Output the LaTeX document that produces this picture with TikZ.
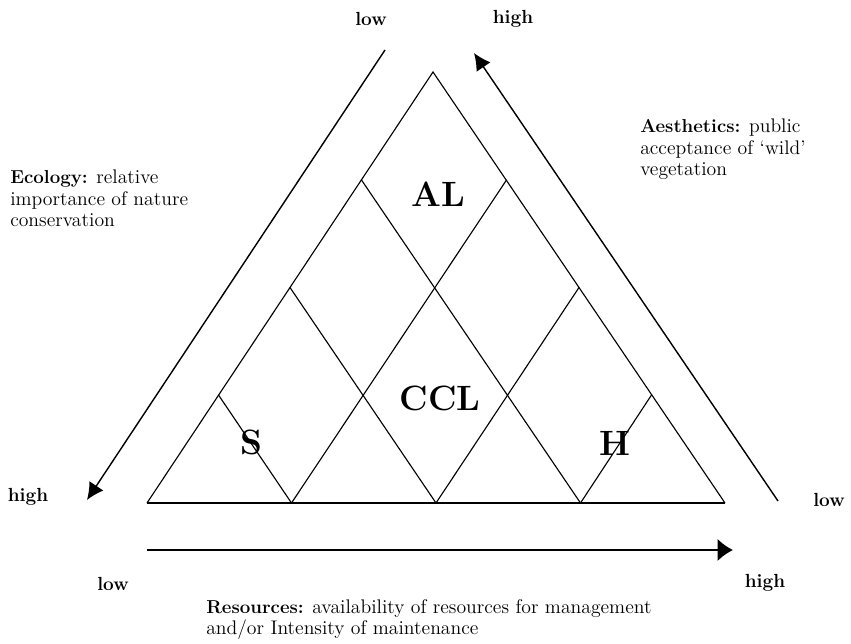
\documentclass[tikz,border=0pt]{standalone}
\usepackage{tikz}
\tikzset{x=0.025cm, y=-0.025cm}
\usetikzlibrary{arrows.meta}
\tikzset{grid/.style={line width=0.8pt}, axisline/.style={line width=1pt}}
\tikzset{caption/.style={font=\fontsize{14}{15}\selectfont, align=left, inner sep=0pt, anchor=north west}}
\newcommand{\zonelabel}[2]{node[font=\fontsize{25}{25}\selectfont\bfseries](#1) {#2}}
\newcommand{\axisend}[2]{node[font=\fontsize{13.5}{15}\selectfont\bfseries](#1) {#2}}
\newcommand{\headword}[1]{{\fontsize{13.3}{15}\selectfont\bfseries #1}}

\begin{document}
\begin{tikzpicture}
\useasboundingbox (0,0) rectangle (851,644);
% corners of the triangle
\draw (147,503) coordinate(sw) ;
\draw (725,503) coordinate(se) ;
\draw (433,72) coordinate(apex) ;
% grid points on the sides
\draw (218.5,395) coordinate(l1) ;
\draw (290,287.5) coordinate(l2) ;
\draw (361.5,180) coordinate(l3) ;
\draw (651.5,395) coordinate(r1) ;
\draw (579,287.5) coordinate(r2) ;
\draw (506.5,180) coordinate(r3) ;
\draw (291.5,503) coordinate(b1) ;
\draw (436,503) coordinate(b2) ;
\draw (580.5,503) coordinate(b3) ;
\draw[grid] (sw) -- (apex) -- (se) ;
\draw[grid, line width=1.2pt] (sw) -- (se) ;
\draw[grid] (b1) -- (r3) ;
\draw[grid] (b2) -- (r2) ;
\draw[grid] (b3) -- (r1) ;
\draw[grid] (b3) -- (l3) ;
\draw[grid] (b2) -- (l2) ;
\draw[grid] (b1) -- (l1) ;
  \draw (438,194) \zonelabel{al}{AL} ;
  \draw (440,398) \zonelabel{ccl}{CCL} ;
  \draw (251,442) \zonelabel{s}{S} ;
  \draw (615,443) \zonelabel{h}{H} ;
% the three axes
\draw (385,50) coordinate(ecotop) ;
\draw (87,500) coordinate(ecoend) ;
\draw (778,501) coordinate(aesbot) ;
\draw (474,53) coordinate(aesend) ;
\draw (147,550) coordinate(resstart) ;
\draw (733,550) coordinate(resend) ;
\draw[axisline, -{Latex[length=12pt,width=12pt]}] (ecotop) -- (ecoend) ;
\draw[axisline, -{Latex[length=12pt,width=12pt]}] (aesbot) -- (aesend) ;
\draw[axisline, line width=1.3pt, -{Latex[length=11pt,width=16pt]}] (resstart) -- (resend) ;
\draw (371,19) \axisend{ecolow}{low} ;
\draw (513,19) \axisend{aeshigh}{high} ;
\draw (28,497) \axisend{ecohigh}{high} ;
\draw (829,500) \axisend{aeslow}{low} ;
\draw (113,584) \axisend{reslow}{low} ;
\draw (765,583) \axisend{reshigh}{high} ;
\node[caption] (ecology) at (10,170) {\headword{Ecology:} relative\\importance of nature\\conservation};
\node[caption] (aesthetics) at (640,119) {\headword{Aesthetics:} public\\acceptance of ‘wild’\\vegetation};
\node[caption] (resources) at (206,599) {\headword{Resources:} availability of resources for management\\and/or Intensity of maintenance};
\end{tikzpicture}
\end{document}
